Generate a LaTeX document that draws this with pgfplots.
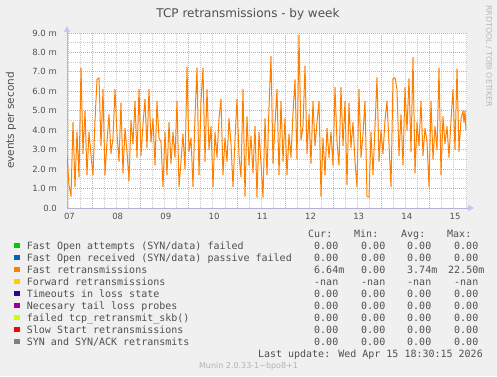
\documentclass[border=0pt]{standalone}
\usepackage{fontspec}
\setmainfont{DejaVu Sans}
\newfontfamily\mono{DejaVu Sans Mono}
\usepackage{pgfplots}
\usepackage{pgfplotstable}
\pgfplotsset{compat=1.18}
\usetikzlibrary{arrows.meta}
\definecolor{bg}{HTML}{F0F0F0}
\definecolor{txt}{HTML}{505050}
\definecolor{majgrid}{HTML}{E8A0A0}
\definecolor{mingrid}{HTML}{C8C8C8}
\definecolor{axcol}{HTML}{B4B4D2}
\definecolor{arrcol}{HTML}{C0C8FA}
\definecolor{cA}{HTML}{00CC00}
\definecolor{cB}{HTML}{0066B3}
\definecolor{cC}{HTML}{FF8000}
\definecolor{cD}{HTML}{FFCC00}
\definecolor{cE}{HTML}{330099}
\definecolor{cF}{HTML}{990099}
\definecolor{cG}{HTML}{CCFF00}
\definecolor{cH}{HTML}{FF0000}
\definecolor{cI}{HTML}{808080}
\pgfplotstableread{
x y
67 2.7
69 1.2
71 0.6
73 4.4
75 1.1
77 3.9
79 1.6
81 7.2
83 2.8
85 5.0
87 1.7
89 3.9
91 2.7
93 1.7
95 4.5
97 6.6
99 6.7
101 3.2
103 6.1
105 1.7
107 3.4
109 4.8
111 2.8
113 3.6
115 6.1
117 3.8
119 2.4
121 5.4
123 1.8
125 4.1
127 2.9
129 1.4
131 4.5
133 3.3
135 5.5
137 2.6
139 6.1
141 2.7
143 4.3
145 5.6
147 3.1
149 6.1
151 3.4
153 4.6
155 2.2
157 5.5
159 3.6
161 3.4
163 1.1
165 3.9
167 1.7
169 4.4
171 2.3
173 3.9
175 2.6
177 5.5
179 1.1
181 2.4
183 3.8
185 2.0
187 7.25
189 2.9
191 3.6
193 1.1
195 4.7
197 7.2
199 1.7
201 5.5
203 7.2
205 2.4
207 6.1
209 3.0
211 4.2
213 1.1
215 3.9
217 2.6
219 4.6
221 5.6
223 1.7
225 3.6
227 2.4
229 4.6
231 3.3
233 1.1
235 3.5
237 5.6
239 2.7
241 1.6
243 6.1
245 0.6
247 4.7
249 2.2
251 3.7
253 1.8
255 4.2
257 0.55
259 3.9
261 2.3
263 0.55
265 4.6
267 1.7
269 5.2
271 7.8
273 2.3
275 4.3
277 6.1
279 1.7
281 5.5
283 2.4
285 4.6
287 1.7
289 3.8
291 2.6
293 4.9
295 6.6
297 2.5
299 8.9
301 3.5
303 4.2
305 7.3
307 2.8
309 4.8
311 2.3
313 5.5
315 3.2
317 4.4
319 5.5
321 0.6
323 3.6
325 1.7
327 4.1
329 2.6
331 3.9
333 2.2
335 6.2
337 3.4
339 2.2
341 6.2
343 3.2
345 5.5
347 1.2
349 5.4
351 3.1
353 4.4
355 2.4
357 1.1
359 6.1
361 2.6
363 3.8
365 5.5
367 0.6
369 0.55
371 3.9
373 1.7
375 4.2
377 6.7
379 2.4
381 4.0
383 2.8
385 4.5
387 5.5
389 3.3
391 1.1
393 6.65
395 6.7
397 6.1
399 2.7
401 4.8
403 2.2
405 6.2
407 4.0
409 6.65
411 2.9
413 7.75
415 1.8
417 4.4
419 3.2
421 5.5
423 2.7
425 4.1
427 3.4
429 1.1
431 5.5
433 2.5
435 4.2
437 3.0
439 7.2
441 1.7
443 4.7
445 3.3
447 4.2
449 2.6
451 4.5
453 6.1
455 3.0
457 7.15
459 2.9
461 4.6
463 5.0
464 4.4
465 5.0
466 4.0
}\fastdata
\begin{document}
\begin{tikzpicture}[x=1pt,y=1pt]
\fill[bg] (0,0) rectangle (497,376);
\begin{axis}[
  at={(67pt,168pt)}, anchor=south west,
  scale only axis, width=400pt, height=175pt,
  xmin=67, xmax=467, ymin=0, ymax=9,
  axis background/.style={fill=white},
  axis lines=left,
  axis line style={draw=axcol, line width=0.8pt},
  x axis line style={-{Triangle[length=6pt,width=6pt,color=arrcol,fill=arrcol]}, shorten >=-7pt},
  y axis line style={-{Triangle[length=6pt,width=6pt,color=arrcol,fill=arrcol]}, shorten >=-7pt},
  major tick length=0pt, minor tick length=0pt,
  tick style={draw=none},
  xtick={69.5,117.7,165.9,214.1,262.3,310.5,358.7,406.9,455.1},
  xticklabels={07,08,09,10,11,12,13,14,15},
  xmajorgrids=false,
  extra x ticks={92.3,140.5,188.7,236.9,285.1,333.3,381.5,429.7},
  extra x tick labels={},
  extra x tick style={grid=major},
  minor xtick={68.2,80.25,104.35,116.4,128.45,152.55,164.6,176.65,200.75,212.8,224.85,248.95,261.0,273.05,297.15,309.2,321.25,345.35,357.4,369.45,393.55,405.6,417.65,441.75,453.8,465.85},
  xminorgrids=true,
  ytick={0,1,2,3,4,5,6,7,8,9},
  yticklabels={0.0,1.0 m,2.0 m,3.0 m,4.0 m,5.0 m,6.0 m,7.0 m,8.0 m,9.0 m},
  minor ytick={0.5,1.5,2.5,3.5,4.5,5.5,6.5,7.5,8.5},
  ymajorgrids=true, yminorgrids=true,
  major grid style={majgrid, dash pattern=on 1pt off 1pt, line width=0.8pt},
  minor grid style={mingrid, dash pattern=on 1pt off 1pt, line width=0.7pt},
  every tick label/.append style={font=\fontsize{8.5}{10}\selectfont, text=txt},
  yticklabel style={anchor=east, inner sep=0pt, xshift=-10pt},
  xticklabel style={anchor=base, inner sep=0pt, yshift=-11.3pt},
]
\addplot[cC, line width=1pt, line join=round] table[x=x,y=y]{\fastdata};
\end{axis}
% title and labels
\node[anchor=base, inner sep=0pt, text=txt, font=\fontsize{12}{14}\selectfont] at (248,358.7) {TCP retransmissions - by week};
\node[rotate=90, inner sep=0pt, text=txt, font=\fontsize{10.5}{12}\selectfont] at (11,255.5) {events per second};
\node[rotate=-90, inner sep=0pt, text=black!28, font=\fontsize{7.9}{9}\selectfont] at (489,320) {RRDTOOL / TOBI OETIKER};
% legend
\begin{scope}[every node/.style={anchor=base west, inner sep=0pt, text=txt, font=\mono\fontsize{10}{12}\selectfont}]
\node at (308,138.5) {Cur:};
\node at (354,138.5) {Min:};
\node at (401,138.5) {Avg:};
\node at (447,138.5) {Max:};
\foreach \b/\c/\lab in {127/cA/{Fast Open attempts (SYN/data) failed},115/cB/{Fast Open received (SYN/data) passive failed},103/cC/{Fast retransmissions},91/cD/{Forward retransmissions},79/cE/{Timeouts in loss state},67/cF/{Necesary tail loss probes},55/cG/{failed tcp\_retransmit\_skb()},43/cH/{Slow Start retransmissions},31/cI/{SYN and SYN/ACK retransmits}}{
  \fill[\c] (14,\b+1) rectangle (20,\b+6.5);
  \node at (26.7,\b) {\lab};
}
\foreach \b in {127,115,79,67,55,43,31}{
  \node at (314,\b) {0.00};
  \node at (361,\b) {0.00};
  \node at (407,\b) {0.00};
  \node at (454,\b) {0.00};
}
\node at (314,103) {6.64m};
\node at (361,103) {0.00};
\node at (407,103) {3.74m};
\node at (448,103) {22.50m};
\node at (314,91) {-nan};
\node at (361,91) {-nan};
\node at (407,91) {-nan};
\node at (454,91) {-nan};
\node[anchor=base east] at (483,19) {Last update: Wed Apr 15 18:30:15 2026};
\end{scope}
\node[anchor=base, inner sep=0pt, text=black!30, font=\fontsize{8}{9}\selectfont] at (248.5,7.5) {Munin 2.0.33-1\textasciitilde bpo8+1};
\pgfresetboundingbox
\useasboundingbox (0,0) rectangle (497,376);
\end{tikzpicture}
\end{document}
